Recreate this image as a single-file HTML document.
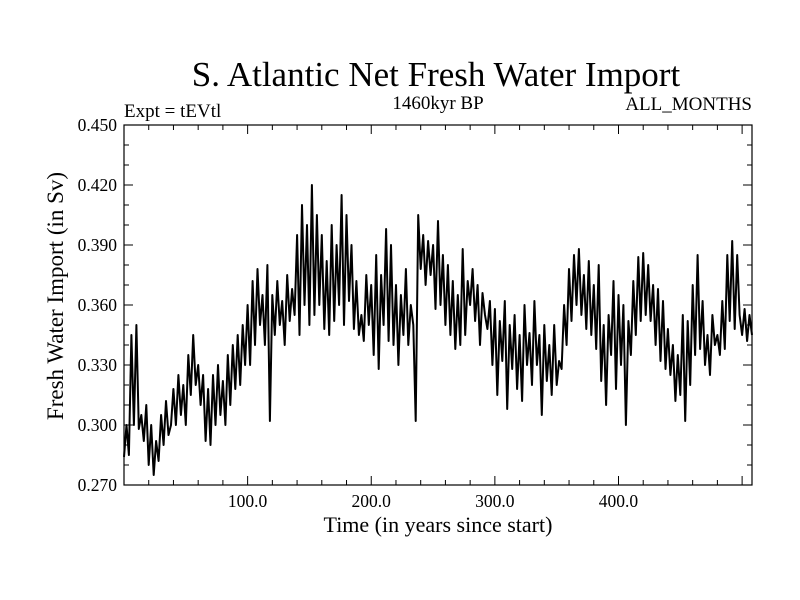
<!DOCTYPE html>
<html><head><meta charset="utf-8"><style>
body{margin:0;background:#fff}
svg{display:block;font-family:"Liberation Serif",serif}
</style></head><body>
<svg id="chart" width="800" height="600">
<text x="436" y="86" font-size="35" text-anchor="middle">S. Atlantic Net Fresh Water Import</text>
<text x="124" y="117" font-size="19">Expt = tEVtl</text>
<text x="438" y="109" font-size="19" text-anchor="middle">1460kyr BP</text>
<text x="752" y="110" font-size="19" text-anchor="end">ALL_MONTHS</text>
<text x="438" y="532" font-size="22" text-anchor="middle">Time (in years since start)</text>
<text transform="translate(63,296) rotate(-90)" font-size="23" text-anchor="middle">Fresh Water Import (in Sv)</text>
<g id="axes"></g>
<path id="line" fill="none" stroke="#000" stroke-width="2" stroke-linejoin="round"/>
<rect x="124" y="125" width="628" height="360" fill="none" stroke="#000" stroke-width="1.2"/>
</svg>
<script>
const t0 = 0, tStep = 2;
const values = [
.284,.300,.285,.345,.300,.350,.298,.305,.292,.310,
.280,.300,.275,.292,.282,.305,.290,.312,.295,.300,
.318,.300,.325,.305,.320,.300,.335,.315,.345,.320,
.330,.310,.325,.292,.318,.290,.325,.300,.330,.305,
.322,.300,.335,.310,.340,.318,.345,.320,.350,.330,
.360,.330,.372,.340,.378,.350,.365,.340,.380,.302,
.365,.345,.372,.350,.362,.340,.375,.352,.368,.355,
.395,.345,.410,.360,.400,.350,.420,.355,.405,.360,
.395,.348,.382,.345,.400,.352,.390,.360,.415,.350,
.405,.362,.390,.348,.372,.345,.355,.342,.375,.350,
.370,.335,.385,.328,.375,.350,.398,.342,.390,.340,
.370,.330,.365,.345,.378,.340,.360,.350,.302,.405,
.378,.395,.370,.392,.375,.390,.358,.402,.360,.385,
.350,.380,.345,.372,.338,.365,.340,.388,.345,.372,
.360,.378,.352,.370,.340,.366,.355,.348,.362,.330,
.358,.315,.352,.332,.362,.308,.350,.328,.355,.318,
.345,.312,.360,.330,.346,.320,.362,.330,.345,.305,
.350,.322,.340,.315,.350,.320,.332,.328,.360,.340,
.378,.352,.385,.360,.388,.355,.375,.348,.382,.345,
.370,.338,.380,.322,.350,.310,.355,.335,.372,.318,
.365,.330,.360,.300,.352,.335,.372,.345,.384,.352,
.386,.355,.380,.352,.370,.340,.368,.332,.362,.328,
.348,.325,.340,.312,.335,.315,.355,.302,.352,.320,
.370,.335,.385,.338,.362,.330,.345,.325,.355,.340,
.345,.335,.362,.338,.385,.352,.392,.348,.385,.355,
.345,.358,.342,.355,.345];
const xTicks = [100, 200, 300, 400];
const xTickLabels = ["100.0", "200.0", "300.0", "400.0"];
const yTicks = [0.27, 0.30, 0.33, 0.36, 0.39, 0.42, 0.45];
const yTickLabels = ["0.270", "0.300", "0.330", "0.360", "0.390", "0.420", "0.450"];

const L=124,R=752,T=125,B=485, xMin=0, xMax=508, yMin=0.27, yMax=0.45;
const sx = t => L + (t - xMin) / (xMax - xMin) * (R - L);
const sy = v => B - (v - yMin) / (yMax - yMin) * (B - T);
const NS="http://www.w3.org/2000/svg";
const axes=document.getElementById('axes');
function ln(x1,y1,x2,y2,name){const e=document.createElementNS(NS,'line');
e.setAttribute('x1',x1);e.setAttribute('y1',y1);e.setAttribute('x2',x2);e.setAttribute('y2',y2);
e.setAttribute('stroke','#000');e.setAttribute('stroke-width','1');


axes.appendChild(e);}
function tx(x,y,s,anchor,name){const e=document.createElementNS(NS,'text');
e.setAttribute('x',x);e.setAttribute('y',y);e.setAttribute('font-size','17.5');e.setAttribute('text-anchor',anchor);e.textContent=s;


axes.appendChild(e);}
for(let t=20;t<xMax;t+=20){const major=t%100===0;const len=major?9:5;const x=sx(t);
ln(x,B,x,B-len,'x-tick');ln(x,T,x,T+len,'x-tick-top');}
xTicks.forEach((t,i)=>tx(sx(t),507,xTickLabels[i],'middle','x-tick-label'));
for(let k=1;k<18;k++){const v=yMin+k*0.01;const major=k%3===0;const len=major?9:5;const y=sy(v);
ln(L,y,L+len,y,'y-tick');ln(R,y,R-len,y,'y-tick-right');}
yTicks.forEach((v,i)=>tx(117,sy(v)+6,yTickLabels[i],'end','y-tick-label'));
let d='';values.forEach((v,i)=>{const t=t0+i*tStep;d+=(i?'L':'M')+sx(t).toFixed(1)+' '+sy(v).toFixed(1);});
document.getElementById('line').setAttribute('d',d);
</script>
</body></html>
